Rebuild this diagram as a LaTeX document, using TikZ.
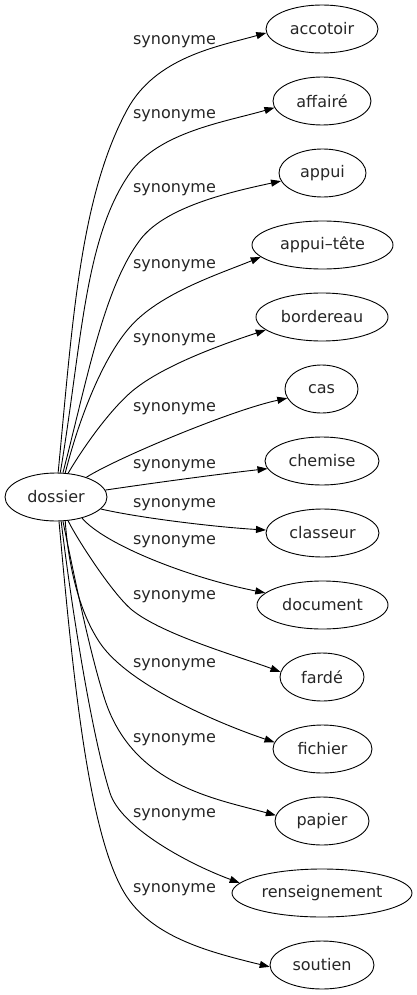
\documentclass[tikz,border=0pt]{standalone}
\usepackage{fontspec}
\setmainfont{DejaVu Sans}
\usetikzlibrary{shapes.geometric,arrows.meta}
\begin{document}
\begin{tikzpicture}[x=1pt,y=-1pt,
  every node/.style={font=\fontsize{16}{19}\selectfont, text=black!85},
  term/.style={draw=black, ellipse, inner sep=0pt, minimum height=48pt, line width=0.9pt},
  rel/.style={inner sep=0pt},
  edge/.style={line width=0.9pt, -{Triangle[length=10pt,width=7pt]}}]
\useasboundingbox (0,0) rectangle (417,995);
% nodes
\node[term, minimum width=102pt] (d) at (56,497) {dossier};
\node[term, minimum width=112pt] (t1) at (322,29) {accotoir};
\node[term, minimum width=98pt] (t2) at (322,101) {affairé};
\node[term, minimum width=87pt] (t3) at (322.5,173) {appui};
\node[term, minimum width=141pt] (t4) at (322.5,245) {appui–tête};
\node[term, minimum width=132pt] (t5) at (322,317) {bordereau};
\node[term, minimum width=73pt] (t6) at (321.5,389) {cas};
\node[term, minimum width=114pt] (t7) at (322,461) {chemise};
\node[term, minimum width=113pt] (t8) at (322.5,533) {classeur};
\node[term, minimum width=131pt] (t9) at (322.5,605) {document};
\node[term, minimum width=84pt] (t10) at (322,677) {fardé};
\node[term, minimum width=99pt] (t11) at (322.5,749) {fichier};
\node[term, minimum width=94pt] (t12) at (322,821) {papier};
\node[term, minimum width=180pt] (t13) at (322,893) {renseignement};
\node[term, minimum width=104pt] (t14) at (322,965) {soutien};
% labels
\node[rel] (l1) at (174.5,42) {synonyme};
\node[rel] (l2) at (174.5,116) {synonyme};
\node[rel] (l3) at (174.5,190) {synonyme};
\node[rel] (l4) at (174.5,266) {synonyme};
\node[rel] (l5) at (174.5,340) {synonyme};
\node[rel] (l6) at (174.5,409) {synonyme};
\node[rel] (l7) at (174.5,466) {synonyme};
\node[rel] (l8) at (174.5,505) {synonyme};
\node[rel] (l9) at (174.5,542) {synonyme};
\node[rel] (l10) at (174.5,597) {synonyme};
\node[rel] (l11) at (174.5,665) {synonyme};
\node[rel] (l12) at (174.5,740) {synonyme};
\node[rel] (l13) at (174.5,815) {synonyme};
\node[rel] (l14) at (174.5,890) {synonyme};
% edges
\draw[edge] (d.85) .. controls (72.5,324) and (79.5,198) .. (127,110) .. controls (155.5,57) and (218,46.5) .. (t1.184);
\draw[edge] (d.80) .. controls (81.8,344.8) and (84,238.5) .. (130,173) .. controls (158.7,132) and (225,122) .. (t2.188);
\draw[edge] (d.74) .. controls (88,376) and (104,288) .. (140,240) .. controls (164,208) and (225,193) .. (t3.191);
\draw[edge] (d.69) .. controls (80,415) and (103.6,357) .. (130,327) .. controls (159.7,293) and (220,273.7) .. (t4.191);
\draw[edge] (d.63) .. controls (83,448) and (107.6,413) .. (130,393) .. controls (160,366.4) and (222,344.4) .. (t5.193);
\draw[edge] (d.33) .. controls (115,459) and (230,410.5) .. (t6.195);
\draw[edge] (d.8) .. controls (160,482) and (220,474) .. (t7.188);
\draw[edge] (d.-15) .. controls (140,518) and (215,527) .. (t8.177);
\draw[edge] (d.-39) .. controls (105,545) and (190,578) .. (t9.168);
\draw[edge] (d.-63) .. controls (77,539) and (112.6,594) .. (132,610) .. controls (163,635) and (239.7,656.7) .. (t10.173);
\draw[edge] (d.-69) .. controls (68,561) and (77.6,609.8) .. (100,643) .. controls (128,684.5) and (216.6,722.8) .. (t11.172);
\draw[edge] (d.-74) .. controls (73,570) and (89.5,652.5) .. (105,700) .. controls (133,785.5) and (215.4,798.8) .. (t12.173);
\draw[edge] (d.-78) .. controls (71.8,610) and (92,736) .. (110,793) .. controls (120.5,826) and (183.6,862) .. (t13.173);
\draw[edge] (d.-83) .. controls (72.5,670) and (88,839) .. (127,897) .. controls (155,938.5) and (211.8,952.6) .. (t14.182);
\end{tikzpicture}
\end{document}
